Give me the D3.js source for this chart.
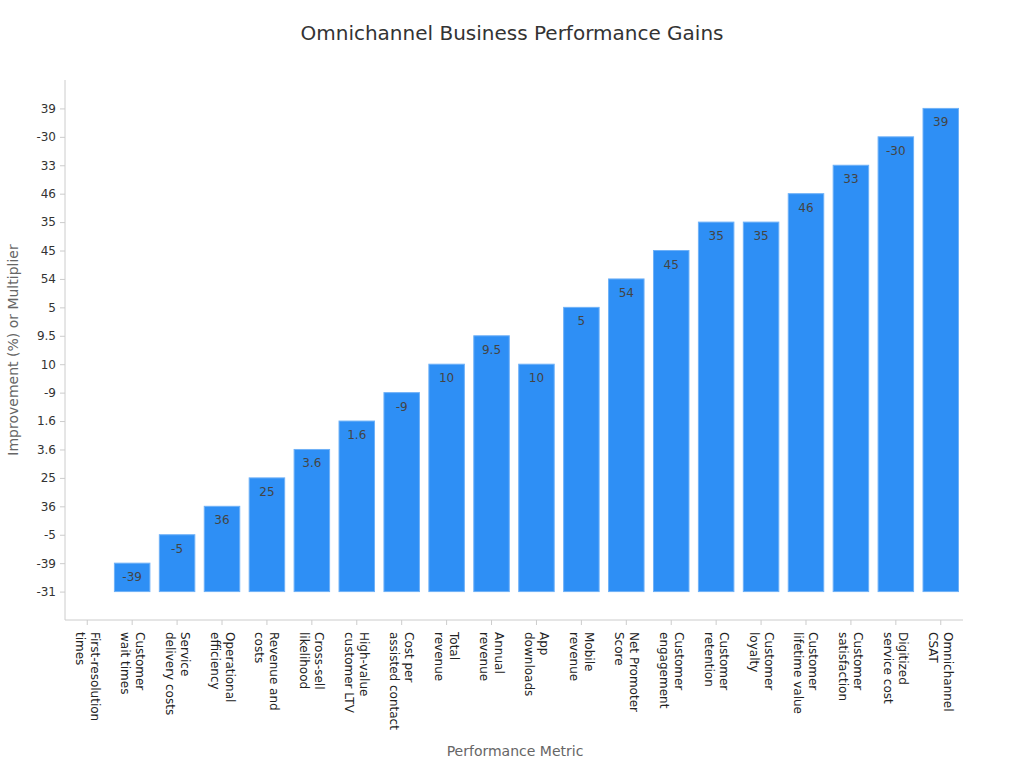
<!DOCTYPE html><html><head><meta charset="utf-8">
<script src="https://cdn.jsdelivr.net/npm/d3@7"></script>
<style>body{margin:0;background:#fff}text{font-family:"DejaVu Sans",sans-serif}</style></head><body>
<svg id="c" width="1024" height="768"></svg>
<script>
const categories=[["First-resolution","times"],["Customer","wait times"],["Service","delivery costs"],["Operational","efficiency"],["Revenue and","costs"],["Cross-sell","likelihood"],["High-value","customer LTV"],["Cost per","assisted contact"],["Total","revenue"],["Annual","revenue"],["App","downloads"],["Mobile","revenue"],["Net Promoter","Score"],["Customer","engagement"],["Customer","retention"],["Customer","loyalty"],["Customer","lifetime value"],["Customer","satisfaction"],["Digitized","service cost"],["Omnichannel","CSAT"]];
const values=["-31","-39","-5","36","25","3.6","1.6","-9","10","9.5","10","5","54","45","35","35","46","33","-30","39"];
const svg=d3.select("#c");
const L=65,R=963,T=80,B=620;
const x=d3.scaleBand().domain(categories.map(d=>d.join(" "))).range([L,R]).paddingInner(0.21).paddingOuter(0.1);
const yDomain=Array.from(new Set(values));
const y=d3.scalePoint().domain(yDomain).range([B,T]).padding(1);
const base=y(yDomain[0]);
const grey="#ccc";
const rows=values.map((v,i)=>({v,c:categories[i].join(" ")}));
svg.append("text").attr("x",512).attr("y",40).attr("text-anchor","middle").attr("font-size",20).attr("fill","#333").text("Omnichannel Business Performance Gains");
svg.append("g").selectAll("rect").data(rows).join("rect")
 .attr("x",d=>x(d.c)).attr("width",x.bandwidth())
 .attr("y",d=>y(d.v)).attr("height",d=>base-y(d.v))
 .attr("fill","#2e8ff5").attr("stroke","#6fb1f7").attr("stroke-width",1);
svg.append("g").selectAll("text").data(rows.filter(d=>base-y(d.v)>0)).join("text")
 .attr("x",d=>x(d.c)+x.bandwidth()/2).attr("y",d=>y(d.v)+18)
 .attr("text-anchor","middle").attr("font-size",12).attr("fill","#444").text(d=>d.v);
const ya=svg.append("g").attr("transform",`translate(${L},0)`).call(d3.axisLeft(y).tickSize(5));
ya.select(".domain").attr("stroke",grey).attr("d",`M0,${T}V${B}`);
ya.selectAll(".tick line").attr("stroke",grey);
ya.selectAll(".tick text").attr("font-size",12).attr("fill","#333").attr("x",-9);
const xa=svg.append("g").attr("transform",`translate(0,${B})`).call(d3.axisBottom(x).tickSize(5).tickFormat(""));
xa.select(".domain").attr("stroke",grey).attr("d",`M${L},0H${R}`);
xa.selectAll(".tick line").attr("stroke",grey);
categories.forEach(c=>{
 const cx=x(c.join(" "))+x.bandwidth()/2;
 const n=c.length;
 const t=svg.append("text").attr("transform",`translate(${cx+(n-1)*7.5-4},${B+12}) rotate(90)`).attr("font-size",12).attr("fill","#222");
 c.forEach((s,j)=>t.append("tspan").attr("x",0).attr("dy",j?15:0).text(s));
});
svg.append("text").attr("x",515).attr("y",756).attr("text-anchor","middle").attr("font-size",14).attr("fill","#666").text("Performance Metric");
svg.append("text").attr("transform","translate(18,350) rotate(-90)").attr("text-anchor","middle").attr("font-size",14).attr("fill","#666").text("Improvement (%) or Multiplier");
</script></body></html>
